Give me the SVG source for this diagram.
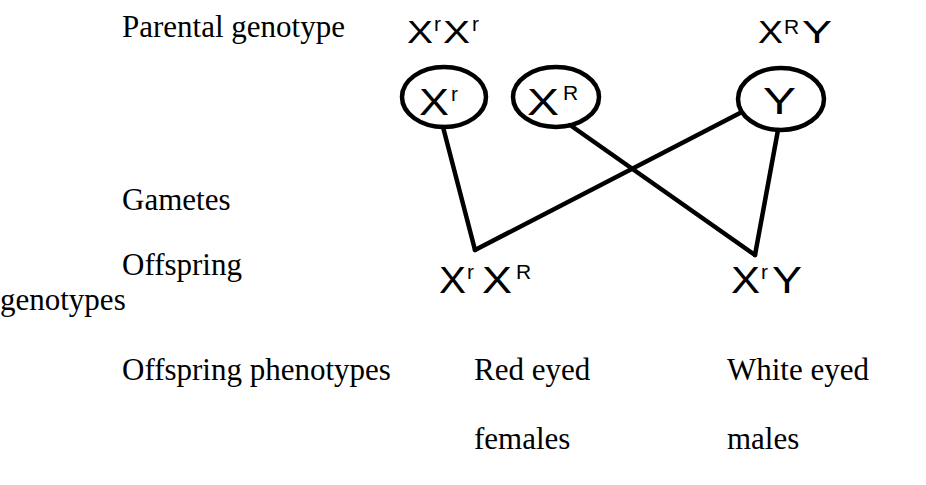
<svg xmlns="http://www.w3.org/2000/svg" width="926" height="485" viewBox="0 0 926 485">
<style>
.lbl{font-family:"Liberation Serif","Times New Roman",serif;font-size:31px;fill:#000}
.gen{font-family:"Liberation Sans",Arial,sans-serif;fill:#000}
.p{font-size:32px}
.g{font-size:37px}
.o{font-size:36px}
.s{font-size:21px}
.node ellipse{fill:none;stroke:#000;stroke-width:4.5}
.conn line{stroke:#000;stroke-width:4.5;stroke-linecap:round}
</style>
<rect width="926" height="485" fill="#fff"/>
<g id="labels">
<text class="lbl" x="122" y="37">Parental genotype</text>
<text class="lbl" x="122" y="210">Gametes</text>
<text class="lbl" x="122" y="275">Offspring</text>
<text class="lbl" x="0" y="310">genotypes</text>
<text class="lbl" x="122" y="380">Offspring phenotypes</text>
<text class="lbl" x="474" y="380">Red eyed</text>
<text class="lbl" x="727" y="380">White eyed</text>
<text class="lbl" x="474" y="449">females</text>
<text class="lbl" x="727" y="449">males</text>
</g>
<g id="parent-female" class="gen p">
<text x="407" y="43" textLength="26" lengthAdjust="spacingAndGlyphs">X</text><text class="s" x="434" y="31">r</text>
<text x="443" y="43" textLength="27" lengthAdjust="spacingAndGlyphs">X</text><text class="s" x="472" y="31">r</text>
</g>
<g id="parent-male" class="gen p">
<text x="758" y="43" textLength="25" lengthAdjust="spacingAndGlyphs">X</text><text class="s" x="784" y="34">R</text>
<text x="802" y="43" textLength="30" lengthAdjust="spacingAndGlyphs">Y</text>
</g>
<g id="gamete-xr" class="node"><ellipse cx="444" cy="97" rx="42" ry="30"/><g class="gen g"><text x="419" y="115" textLength="30" lengthAdjust="spacingAndGlyphs">X</text><text class="s" x="451" y="101">r</text></g></g>
<g id="gamete-xR" class="node"><ellipse cx="556" cy="97" rx="43" ry="30"/><g class="gen g"><text x="527" y="115" textLength="32" lengthAdjust="spacingAndGlyphs">X</text><text class="s" x="563" y="100">R</text></g></g>
<g id="gamete-y" class="node"><ellipse cx="781" cy="99" rx="43" ry="31"/><g class="gen g"><text x="763" y="114" textLength="33" lengthAdjust="spacingAndGlyphs">Y</text></g></g>
<g id="offspring-female" class="gen o">
<text x="439" y="293" textLength="27" lengthAdjust="spacingAndGlyphs">X</text><text class="s" x="467" y="279">r</text>
<text x="482" y="293" textLength="30" lengthAdjust="spacingAndGlyphs">X</text><text class="s" x="516" y="279">R</text>
</g>
<g id="offspring-male" class="gen o">
<text x="731" y="293" textLength="29" lengthAdjust="spacingAndGlyphs">X</text><text class="s" x="761" y="279">r</text>
<text x="772" y="293" textLength="30" lengthAdjust="spacingAndGlyphs">Y</text>
</g>
<g id="connectors" class="conn">
<line x1="443" y1="127" x2="475" y2="250"/>
<line x1="475" y1="250" x2="740" y2="113"/>
<line x1="570" y1="125" x2="755" y2="255"/>
<line x1="778" y1="130" x2="755" y2="255"/>
</g>
</svg>
